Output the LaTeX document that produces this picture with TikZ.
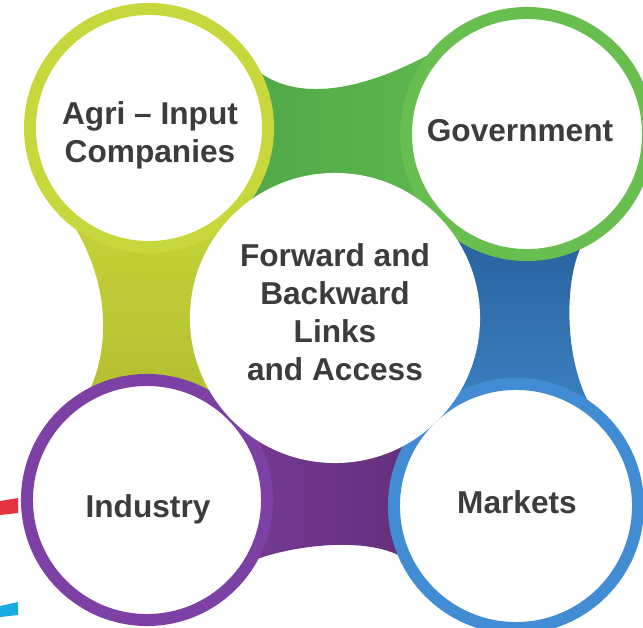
\documentclass[tikz,border=0pt]{standalone}
\usepackage{fontspec}
\setmainfont{Liberation Sans}
\usepackage{tikz}

\definecolor{labelgray}{RGB}{60,60,60}
\definecolor{agriring}{RGB}{200,215,60}
\definecolor{govring}{RGB}{105,190,80}
\definecolor{indring}{RGB}{125,65,165}
\definecolor{mktring}{RGB}{65,140,210}
% colours of the links
\definecolor{topA}{RGB}{75,160,70}
\definecolor{topB}{RGB}{100,190,80}
\definecolor{leftA}{RGB}{205,220,60}
\definecolor{leftB}{RGB}{170,180,45}
\definecolor{rightA}{RGB}{30,80,140}
\definecolor{rightB}{RGB}{70,145,210}
\definecolor{botA}{RGB}{125,65,160}
\definecolor{botB}{RGB}{90,40,110}
\definecolor{edgered}{RGB}{228,50,65}
\definecolor{edgeblue}{RGB}{25,170,225}

\pgfdeclarelayer{background}
\pgfsetlayers{background,main}

\begin{document}
\begin{tikzpicture}[x=0.025cm,y=-0.025cm,
    hub/.style={circle,inner sep=0pt,outer sep=0pt,fill=white},
    ring/.style={hub,draw=#1,line width=0.3cm},
    caption/.style={align=center,text=labelgray,font=\bfseries\fontsize{22.5}{27}\selectfont}]
\useasboundingbox (0,0) rectangle (643,628);
% Here is where we put the four outer circles and the centre one
   \node[ring=agriring,minimum size=5.95cm] (agri) at (149,128) {};
   \node[ring=govring,minimum size=6.05cm]  (gov)  at (527,134) {};
   \node[ring=indring,minimum size=6cm]     (ind)  at (147,500) {};
   \node[ring=mktring,minimum size=6.1cm]   (mkt)  at (516,506) {};
   \node[hub,minimum size=7.25cm] (links) at (335,318) {};
% and the words in them
   \node[caption] (agri-t)  at (150,135) {Agri – Input\\Companies};
   \node[caption] (gov-t)   at (520,131) {Government};
   \node[caption] (ind-t)   at (148,509) {Industry};
   \node[caption] (mkt-t)   at (517,502) {Markets};
   \node[caption] (links-t) at (335,312) {Forward and\\Backward\\Links\\and Access};
% Here is where we fill the links between the circles (behind them)
\begin{pgfonlayer}{background}
   \fill[white] (0,0) rectangle (643,628);
   \shade[left color=topA,right color=topB]
      (agri.33) .. controls (285,100) and (350,100) .. (gov.134)
      -- (gov.center) -- (links.center) -- (agri.center) -- cycle;
   \shade[top color=leftA,bottom color=leftB]
      (agri.210) .. controls (110,260) and (115,340) .. (ind.120)
      -- (ind.center) -- (links.center) -- (agri.center) -- cycle;
   \shade[top color=rightA,bottom color=rightB]
      (gov.-61) .. controls (565,265) and (560,360) .. (mkt.50)
      -- (mkt.center) -- (links.center) -- (gov.center) -- cycle;
   \shade[left color=botA,right color=botB]
      (ind.-31) .. controls (290,545) and (370,535) .. (mkt.206)
      -- (mkt.center) -- (links.center) -- (ind.center) -- cycle;
\end{pgfonlayer}
% bits of the next picture showing at the left edge
   \fill[edgered] (0,501) -- (18,498) -- (18,513) -- (0,515) -- cycle;
   \fill[edgeblue] (0,606) -- (18,602) -- (18,615) -- (0,617) -- cycle;
\end{tikzpicture}
\end{document}
